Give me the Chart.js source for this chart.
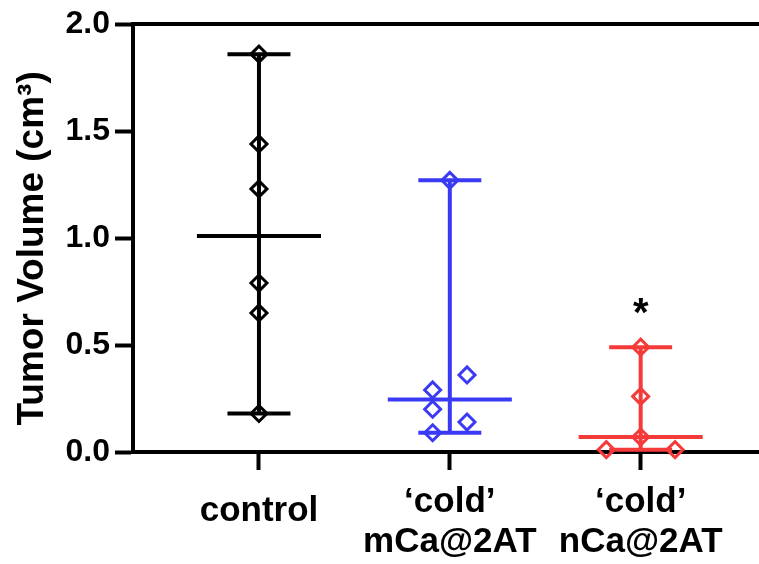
<!DOCTYPE html>
<html><head><meta charset="utf-8">
<script src="https://cdn.jsdelivr.net/npm/chart.js@4"></script>
<style>html,body{margin:0;padding:0;background:#fff;overflow:hidden}#wrap{width:759px;height:564px;position:relative}canvas{display:block}</style>
</head><body><div id="wrap"><canvas id="c"></canvas></div>
<script>
// ---- data ----
const categories = [["control"], ["‘cold’", "mCa@2AT"], ["‘cold’", "nCa@2AT"]];
const categoryPositions = [1, 2, 3];
const controlValues = [1.86, 1.44, 1.23, 0.79, 0.65, 0.18];
const controlJitter = [0, 0, 0, 0, 0, 0];
const mCaValues = [1.27, 0.36, 0.29, 0.20, 0.14, 0.09];
const mCaJitter = [0, 0.09, -0.09, -0.09, 0.09, -0.09];
const nCaValues = [0.49, 0.26, 0.07, 0.011, 0.011];
const nCaJitter = [0, 0, 0, -0.18, 0.18];
const yTicks = [0, 0.5, 1.0, 1.5, 2.0];
const significance = [{ group: 3, y: 0.59, text: '*' }];
const yTitle = 'Tumor Volume (cm³)  ';

// ---- styling ----
const colors = ['#000000', '#3a3af5', '#f53a3a'];
const groups = [
  { values: controlValues, jitter: controlJitter },
  { values: mCaValues, jitter: mCaJitter },
  { values: nCaValues, jitter: nCaJitter }
];
const capHalf = 0.165, medHalf = 0.325;
const FONT = "'Liberation Sans', Arial, Helvetica, sans-serif";

function median(a) {
  const s = [...a].sort((p, q) => p - q);
  const n = s.length;
  return n % 2 ? s[(n - 1) / 2] : (s[n / 2 - 1] + s[n / 2]) / 2;
}

const datasets = [];
groups.forEach((g, i) => {
  const p = categoryPositions[i];
  const mn = Math.min(...g.values), mx = Math.max(...g.values), md = median(g.values);
  datasets.push({
    type: 'line',
    data: [
      { x: p - capHalf, y: mx }, { x: p + capHalf, y: mx }, { x: p, y: null },
      { x: p, y: mx }, { x: p, y: mn }, { x: p, y: null },
      { x: p - capHalf, y: mn }, { x: p + capHalf, y: mn }, { x: p, y: null },
      { x: p - medHalf, y: md }, { x: p + medHalf, y: md }
    ],
    borderColor: colors[i], borderWidth: 4, pointRadius: 0, spanGaps: false,
    fill: false, clip: false, tension: 0, order: 2
  });
  datasets.push({
    type: 'scatter',
    data: g.values.map((v, k) => ({ x: p + g.jitter[k], y: v })),
    pointStyle: 'rectRot', pointRadius: 8, pointBorderWidth: 3,
    borderColor: colors[i], backgroundColor: 'rgba(0,0,0,0)',
    pointBackgroundColor: 'rgba(0,0,0,0)', showLine: false, clip: false, order: 1
  });
});

const sigPlugin = {
  id: 'sig',
  afterDatasetsDraw(chart) {
    const ctx = chart.ctx;
    ctx.save();
    ctx.fillStyle = '#000';
    ctx.font = 'bold 40px ' + FONT;
    ctx.textAlign = 'center';
    ctx.textBaseline = 'alphabetic';
    significance.forEach(s => {
      ctx.fillText(s.text, chart.scales.x.getPixelForValue(s.group), chart.scales.y.getPixelForValue(s.y));
    });
    ctx.restore();
  }
};

new Chart(document.getElementById('c'), {
  type: 'scatter',
  data: { datasets },
  options: {
    responsive: true, maintainAspectRatio: false, animation: false,
    layout: { autoPadding: false, padding: { top: 23, right: 0, left: 0, bottom: 0 } },
    plugins: { legend: { display: false }, tooltip: { enabled: false } },
    scales: {
      x: {
        type: 'linear', position: 'bottom', min: 0.34, max: 3.62,
        afterBuildTicks: s => { s.ticks = categoryPositions.map(v => ({ value: v })); },
        afterFit: s => { s.height = 112; s.paddingRight = 0; s.paddingLeft = 0; },
        grid: { display: true, drawOnChartArea: false, drawTicks: true, tickLength: 18, tickWidth: 4, tickColor: '#000' },
        border: { display: true, width: 4, color: '#000' },
        ticks: {
          autoSkip: false, maxRotation: 0, minRotation: 0, padding: 12,
          color: '#000',
          font: c => ({ family: FONT, size: 35, weight: 'bold', lineHeight: c.index === 0 ? 1.7 : 1.15 }),
          callback: v => categories[categoryPositions.indexOf(v)]
        }
      },
      x2: {
        type: 'linear', position: 'top', min: 0, max: 1, display: true,
        grid: { display: false, drawTicks: false }, ticks: { display: false },
        border: { display: true, width: 4, color: '#000' },
        afterFit: s => { s.height = 0; s.paddingRight = 0; s.paddingLeft = 0; }
      },
      y: {
        type: 'linear', min: 0, max: 2,
        afterBuildTicks: s => { s.ticks = yTicks.map(v => ({ value: v })); },
        afterFit: s => { s.width = 133; },
        grid: { display: true, drawOnChartArea: false, drawTicks: true, tickLength: 18, tickWidth: 4, tickColor: '#000' },
        border: { display: true, width: 4, color: '#000' },
        ticks: {
          padding: 5, color: '#000', font: { family: FONT, size: 32, weight: 'bold' },
          callback: v => v.toFixed(1)
        },
        title: {
          display: true, text: yTitle, color: '#000',
          font: { family: FONT, size: 37, weight: 'bold', lineHeight: 1.2 },
          padding: { top: 11, bottom: 0 }
        }
      }
    }
  },
  plugins: [sigPlugin]
});
</script>
</body></html>
